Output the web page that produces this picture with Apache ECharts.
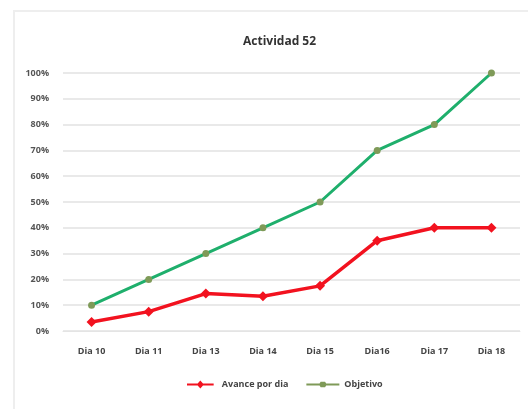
<!DOCTYPE html>
<html>
<head>
<meta charset="utf-8">
<script src="https://cdn.jsdelivr.net/npm/echarts@6/dist/echarts.min.js"></script>
<style>
  html, body { margin: 0; padding: 0; background: #ffffff; }
  #chart { width: 528px; height: 409px; }
</style>
</head>
<body>
<div id="chart"></div>
<script>
// Days of the activity
const categories = ['Dia 10', 'Dia 11', 'Dia 13', 'Dia 14', 'Dia 15', 'Dia16', 'Dia 17', 'Dia 18'];
// Daily progress (fraction of total)
const avancePorDia = [0.035, 0.075, 0.145, 0.135, 0.175, 0.35, 0.40, 0.40];
// Target progress
const objetivo = [0.10, 0.20, 0.30, 0.40, 0.50, 0.70, 0.80, 1.00];
// Y axis ticks
const yMin = 0, yMax = 1, yStep = 0.1;

const FONT = '"Liberation Sans Narrow", "Open Sans", sans-serif';

const chart = echarts.init(document.getElementById('chart'));
chart.setOption({
  backgroundColor: '#ffffff',
  animation: false,
  graphic: [
    {
      type: 'rect',
      shape: { x: 14, y: 11, width: 530, height: 420 },
      style: { fill: 'none', stroke: '#eeeeee', lineWidth: 2 },
      silent: true
    }
  ],
  title: {
    text: 'Actividad 52',
    left: 238,
    top: 31,
    textStyle: { fontFamily: FONT, fontSize: 12, fontWeight: 'bold', color: '#333333' }
  },
  grid: { left: 63, right: 8, top: 73, bottom: 78, containLabel: false },
  legend: {
    bottom: 15,
    left: 182,
    itemWidth: 33,
    itemHeight: 8,
    itemGap: 18,
    textStyle: { fontFamily: FONT, fontSize: 9, fontWeight: 'bold', color: '#444444' },
    data: [
      { name: 'Avance por dia', icon: 'path://M0,3.5 L12,3.5 L15,0 L18,3.5 L30,3.5 L30,5.5 L18,5.5 L15,9 L12,5.5 L0,5.5 Z' },
      { name: 'Objetivo', icon: 'path://M0,3.5 L12,3.5 L13,2 L17,2 L18,3.5 L30,3.5 L30,5.5 L18,5.5 L17,7 L13,7 L12,5.5 L0,5.5 Z' }
    ]
  },
  xAxis: {
    type: 'category',
    data: categories,
    boundaryGap: true,
    axisLine: { show: true, lineStyle: { color: '#e4e4e4', width: 1 } },
    axisTick: { show: false },
    axisLabel: { fontFamily: FONT, fontSize: 9, fontWeight: 'bold', color: '#444444', margin: 16 }
  },
  yAxis: {
    type: 'value',
    min: yMin,
    max: yMax,
    interval: yStep,
    axisLine: { show: false },
    axisTick: { show: false },
    splitLine: { lineStyle: { color: '#e2e2e2', width: 1.5 } },
    axisLabel: {
      fontFamily: FONT, fontSize: 9, fontWeight: 'bold', color: '#555555', margin: 14,
      formatter: v => Math.round(v * 100) + '%'
    }
  },
  series: [
    {
      name: 'Avance por dia',
      type: 'line',
      data: avancePorDia,
      color: '#f2121f',
      symbol: 'diamond',
      symbolSize: 10,
      lineStyle: { width: 3.5, color: '#f2121f' },
      itemStyle: { color: '#f2121f' },
      z: 3
    },
    {
      name: 'Objetivo',
      type: 'line',
      data: objetivo,
      color: '#1faf6c',
      symbol: 'circle',
      symbolSize: 7,
      lineStyle: { width: 3, color: '#1faf6c' },
      itemStyle: { color: '#7f9a58' },
      z: 2
    }
  ]
});
</script>
</body>
</html>
